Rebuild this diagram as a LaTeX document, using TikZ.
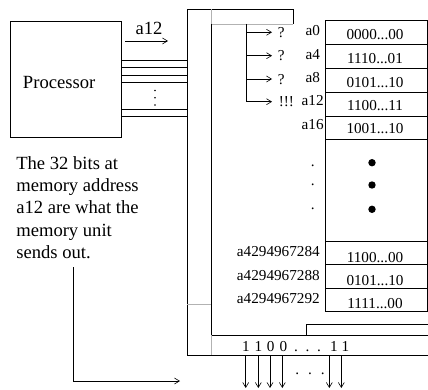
\documentclass[tikz,border=0pt]{standalone}
\usepackage{fontspec}
\setmainfont{Liberation Serif}
\usetikzlibrary{arrows.meta}
\begin{document}
\begin{tikzpicture}[x=1pt,y=-1pt,line width=0.6pt,
  big/.style={font=\fontsize{18.6}{22.7}\selectfont,inner sep=0pt},
  small/.style={font=\fontsize{15.2}{18}\selectfont,inner sep=0pt},
  val/.style={small,anchor=base},
  tip/.style={-{Straight Barb[length=5pt,width=6pt]}},
  sep/.style={draw=gray!60}]
\useasboundingbox (0,0) rectangle (428,390);
% processor
\draw (10,21) rectangle (121,137);
\node[big,anchor=base west] (proc) at (22.7,89) {Processor};
\foreach \y in {60.5,67.5,75,82,109,116} \draw (121,\y) -- (187,\y);
\foreach \y in {90.5,97.8,105} \fill (155,\y) circle (0.9);
\coordinate (a1) at (125,41);
\coordinate (a2) at (168,41);
\draw[tip] (a1) -- (a2);
\node[big,anchor=base] (alab) at (149,35) {a12};
% memory frame
\draw (293,24) -- (293,9) -- (187,9) -- (187,355) -- (428,355);
\draw[sep] (293,24) -- (211,24) -- (211,9);
\draw (211,24) -- (211,335) -- (428,335);
\draw (306,335) -- (306,324) -- (428,324);
\draw[sep] (187,304) -- (211,304);
\draw[sep] (211,335) -- (211,355);
% cells
\draw (325,20) rectangle (427,139.5);
\foreach \y in {44.3,68.3,92.3,116} \draw (325,\y) -- (427,\y);
\draw (325,139.5) rectangle (427,241);
\draw (325,241) rectangle (427,311.7);
\foreach \y in {264.7,288.3} \draw (325,\y) -- (427,\y);
\node[val] (v1) at (375,40) {0000...00};
\node[val] (v2) at (375,63.3) {1110...01};
\node[val] (v3) at (375,87.3) {0101...10};
\node[val] (v4) at (375,110.7) {1100...11};
\node[val] (v5) at (375,134) {1001...10};
\node[val] (v6) at (375,262.7) {1100...00};
\node[val] (v7) at (375,285.5) {0101...10};
\node[val] (v8) at (375,308.3) {1111...00};
\foreach \y in {162.7,185,209.3} \fill (372,\y) circle (3.7);
% address labels
\foreach \t/\y [count=\i] in {a0/36,a4/59.3,a8/82.7,a12/106,a16/129.3}
  \node[small,anchor=base] (l\i) at (312.7,\y) {\t};
\node[val] (d1) at (312.7,167) {.};
\node[val] (d2) at (312.7,185.5) {.};
\node[val] (d3) at (312.7,209.5) {.};
\foreach \t/\y [count=\i] in {a4294967284/256.7,a4294967288/280,a4294967292/303.3}
  \node[small,anchor=base east] (L\i) at (320,\y) {\t};
% selection arrows
\coordinate (s0) at (246.7,24);
\coordinate (s1) at (246.7,101.7);
\draw (s0) -- (s1);
\foreach \y [count=\i] in {32.3,55.7,79,101.7} {
  \coordinate (p\i) at (246.7,\y);
  \coordinate (q\i) at (272,\y);
  \draw[tip] (p\i) -- (q\i);
}
\foreach \y [count=\i] in {37.5,61,84.3} \node[small,anchor=base west] (qm\i) at (277.5,\y) {?};
\node[small,anchor=base west] (ex) at (278.5,106.5) {!!!};
% output bits
\node[val] (b1) at (245.8,351) {1};
\node[val] (b2) at (258.5,351) {1};
\node[val] (b3) at (270.7,351) {0};
\node[val] (b4) at (283.3,351) {0};
\node[val] (b5) at (296,351) {.};
\node[val] (b6) at (307.5,351) {.};
\node[val] (b7) at (319,351) {.};
\node[val] (b8) at (334,351) {1};
\node[val] (b9) at (345.5,351) {1};
\foreach \x [count=\i] in {245.7,258.3,270,282.3,329.3,341.3} {
  \coordinate (o\i) at (\x,356);
  \coordinate (e\i) at (\x,388);
  \draw[tip] (o\i) -- (e\i);
}
\node[val] (dots) at (310,374.3) {.\hspace{8.9pt}.\hspace{8.9pt}.};
% explanation
\node[big,anchor=base west] (t1) at (16,170) {The 32 bits at};
\node[big,anchor=base west] (t2) at (16,192) {memory address};
\node[big,anchor=base west] (t3) at (16,214) {a12 are what the};
\node[big,anchor=base west] (t4) at (16,236) {memory unit};
\node[big,anchor=base west] (t5) at (16,258) {sends out.};
\coordinate (m1) at (73.3,267);
\coordinate (m2) at (73.3,381);
\coordinate (m3) at (180,381);
\draw[tip] (m1) -- (m2) -- (m3);
\end{tikzpicture}
\end{document}
